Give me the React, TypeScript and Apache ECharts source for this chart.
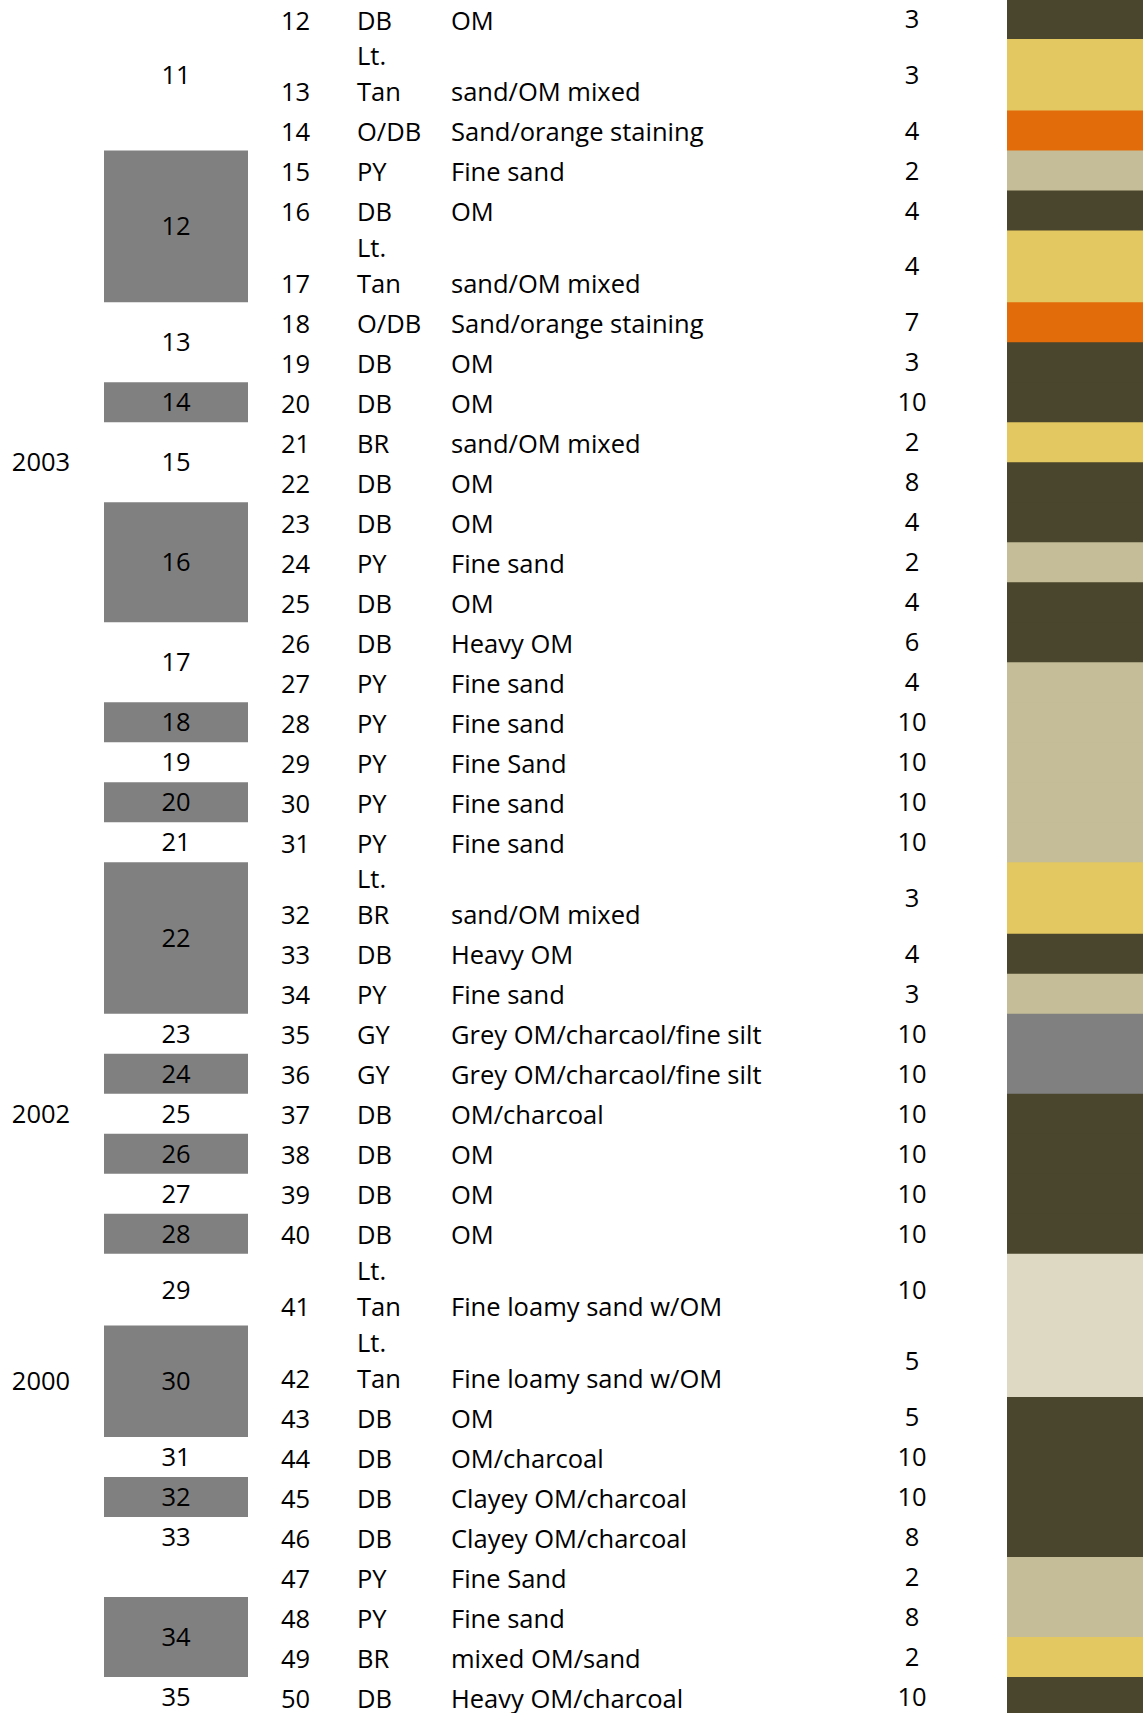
import React, { useEffect, useRef } from "react";
import * as echarts from "echarts";

// ---------- data ----------
const layerNumbers = [12, 13, 14, 15, 16, 17, 18, 19, 20, 21, 22, 23, 24, 25, 26, 27, 28, 29, 30, 31, 32, 33, 34, 35, 36, 37, 38, 39, 40, 41, 42, 43, 44, 45, 46, 47, 48, 49, 50];
const colorCodes = ["DB", "Lt. Tan", "O/DB", "PY", "DB", "Lt. Tan", "O/DB", "DB", "DB", "BR", "DB", "DB", "PY", "DB", "DB", "PY", "PY", "PY", "PY", "PY", "Lt. BR", "DB", "PY", "GY", "GY", "DB", "DB", "DB", "DB", "Lt. Tan", "Lt. Tan", "DB", "DB", "DB", "DB", "PY", "PY", "BR", "DB"];
const descriptions = ["OM", "sand/OM mixed", "Sand/orange staining", "Fine sand", "OM", "sand/OM mixed", "Sand/orange staining", "OM", "OM", "sand/OM mixed", "OM", "OM", "Fine sand", "OM", "Heavy OM", "Fine sand", "Fine sand", "Fine Sand", "Fine sand", "Fine sand", "sand/OM mixed", "Heavy OM", "Fine sand", "Grey OM/charcaol/fine silt", "Grey OM/charcaol/fine silt", "OM/charcoal", "OM", "OM", "OM", "Fine loamy sand w/OM", "Fine loamy sand w/OM", "OM", "OM/charcoal", "Clayey OM/charcoal", "Clayey OM/charcoal", "Fine Sand", "Fine sand", "mixed OM/sand", "Heavy OM/charcoal"];
const thicknesses = [3, 3, 4, 2, 4, 4, 7, 3, 10, 2, 8, 4, 2, 4, 6, 4, 10, 10, 10, 10, 3, 4, 3, 10, 10, 10, 10, 10, 10, 10, 5, 5, 10, 10, 8, 2, 8, 2, 10];
const stripClasses = ["DB", "YL", "OR", "PY", "DB", "YL", "OR", "DB", "DB", "YL", "DB", "DB", "PY", "DB", "DB", "PY", "PY", "PY", "PY", "PY", "YL", "DB", "PY", "GY", "GY", "DB", "DB", "DB", "DB", "BG", "BG", "DB", "DB", "DB", "DB", "PY", "PY", "YL", "DB"];

const sampleNumbers = [11, 12, 13, 14, 15, 16, 17, 18, 19, 20, 21, 22, 23, 24, 25, 26, 27, 28, 29, 30, 31, 32, 33, 34, 35];
const sampleFirstLayer = [12, 15, 18, 20, 21, 23, 26, 28, 29, 30, 31, 32, 35, 36, 37, 38, 39, 40, 41, 42, 44, 45, 46, 48, 50];
const sampleLastLayer = [14, 17, 19, 20, 22, 25, 27, 28, 29, 30, 31, 34, 35, 36, 37, 38, 39, 40, 41, 43, 44, 45, 46, 49, 50];

const yearLabels = ["2003", "2002", "2000"];
const yearFirstLayer = [21, 37, 42];
const yearLastLayer = [22, 37, 43];

// ---------- styles / layout ----------
const stripPalette: Record<string, string> = {
  DB: "#4A452D",
  YL: "#E3C760",
  OR: "#E36C0A",
  PY: "#C4BD97",
  GY: "#808080",
  BG: "#DDD9C3",
};
const SAMPLE_SHADE = "#808080";
const W = 1143;
const H = 1713;
const ROW_PX = 40;
const TALL_FACTOR = 1.79;
const TOP_PX = -1;
const FONT = "Open Sans";
const FS = 25.5;
const COL = { year: 41, sampleL: 104, sampleR: 248, num: 281, code: 357, desc: 451, depth: 912, stripL: 1007, stripR: 1143 };
const LINE_FROM_BOTTOM = 19.5;
const LINE_GAP = 36;
const CENTER_SHIFT = -1;

const rowUnits = colorCodes.map((c) => (c.includes(" ") ? TALL_FACTOR : 1));
const rowStart: number[] = [];
rowUnits.reduce((acc, u, i) => {
  rowStart[i] = acc;
  return acc + u;
}, 0);
const rowEnd = rowStart.map((s, i) => s + rowUnits[i]);
const idxOf = (n: number) => layerNumbers.indexOf(n);

function txt(x: number, y: number, text: string, align: string) {
  return {
    type: "text",
    x,
    y,
    silent: true,
    style: { text, textAlign: align, textVerticalAlign: "middle", fontFamily: FONT, fontSize: FS, fill: "#000" },
  };
}

export default function App() {
  const ref = useRef<HTMLDivElement>(null);
  useEffect(() => {
    document.body.style.margin = "0";
    if (!ref.current) return;
    const chart = echarts.init(ref.current, null, { renderer: "svg" });
    const option: any = {
      animation: false,
      backgroundColor: "#ffffff",
      grid: { left: 0, right: 0, top: 0, bottom: 0 },
      xAxis: { type: "value", min: 0, max: W, show: false },
      yAxis: { type: "value", inverse: true, min: -TOP_PX / ROW_PX, max: (H - TOP_PX) / ROW_PX, show: false },
      series: [
        {
          type: "custom",
          name: "samples",
          silent: true,
          data: sampleNumbers.map((n, k) => [n, rowStart[idxOf(sampleFirstLayer[k])], rowEnd[idxOf(sampleLastLayer[k])]]),
          renderItem: (params: any, api: any) => {
            const n = api.value(0);
            const y0 = api.coord([0, api.value(1)])[1];
            const y1 = api.coord([0, api.value(2)])[1];
            const xl = api.coord([COL.sampleL, 0])[0];
            const xr = api.coord([COL.sampleR, 0])[0];
            const children: any[] = [];
            if (n % 2 === 0) {
              children.push({ type: "rect", shape: { x: xl, y: y0, width: xr - xl, height: y1 - y0 }, style: { fill: SAMPLE_SHADE } });
            }
            children.push(txt((xl + xr) / 2, (y0 + y1) / 2 + CENTER_SHIFT, String(n), "center"));
            return { type: "group", children };
          },
        },
        {
          type: "custom",
          name: "years",
          silent: true,
          data: yearLabels.map((y, k) => [k, rowStart[idxOf(yearFirstLayer[k])], rowEnd[idxOf(yearLastLayer[k])]]),
          renderItem: (params: any, api: any) => {
            const k = api.value(0);
            const y0 = api.coord([0, api.value(1)])[1];
            const y1 = api.coord([0, api.value(2)])[1];
            const x = api.coord([COL.year, 0])[0];
            return txt(x, (y0 + y1) / 2 + CENTER_SHIFT, yearLabels[k], "center");
          },
        },
        {
          type: "custom",
          name: "layers",
          silent: true,
          data: layerNumbers.map((n, i) => [i, rowStart[i], rowEnd[i], thicknesses[i]]),
          renderItem: (params: any, api: any) => {
            const i = api.value(0);
            const y0 = api.coord([0, api.value(1)])[1];
            const y1 = api.coord([0, api.value(2)])[1];
            const sl = api.coord([COL.stripL, 0])[0];
            const sr = api.coord([COL.stripR, 0])[0];
            const color = stripPalette[stripClasses[i]];
            const lineY = y1 - LINE_FROM_BOTTOM;
            const children: any[] = [
              { type: "rect", z2: i, shape: { x: sl, y: y0, width: sr - sl, height: y1 - y0 + 1.5 }, style: { fill: color } },
              txt(api.coord([COL.num, 0])[0], lineY, String(layerNumbers[i]), "left"),
              txt(api.coord([COL.desc, 0])[0], lineY, descriptions[i], "left"),
              txt(api.coord([COL.depth, 0])[0], (y0 + y1) / 2 + CENTER_SHIFT, String(api.value(3)), "center"),
            ];
            const parts = colorCodes[i].split(" ");
            const cx = api.coord([COL.code, 0])[0];
            if (parts.length === 2) {
              children.push(txt(cx, lineY - LINE_GAP, parts[0], "left"));
              children.push(txt(cx, lineY, parts[1], "left"));
            } else {
              children.push(txt(cx, lineY, parts[0], "left"));
            }
            return { type: "group", children };
          },
        },
      ],
    };
    chart.setOption(option);
    return () => chart.dispose();
  }, []);
  return <div ref={ref} style={{ position: "absolute", left: 0, top: 0, width: W, height: H }} />;
}
